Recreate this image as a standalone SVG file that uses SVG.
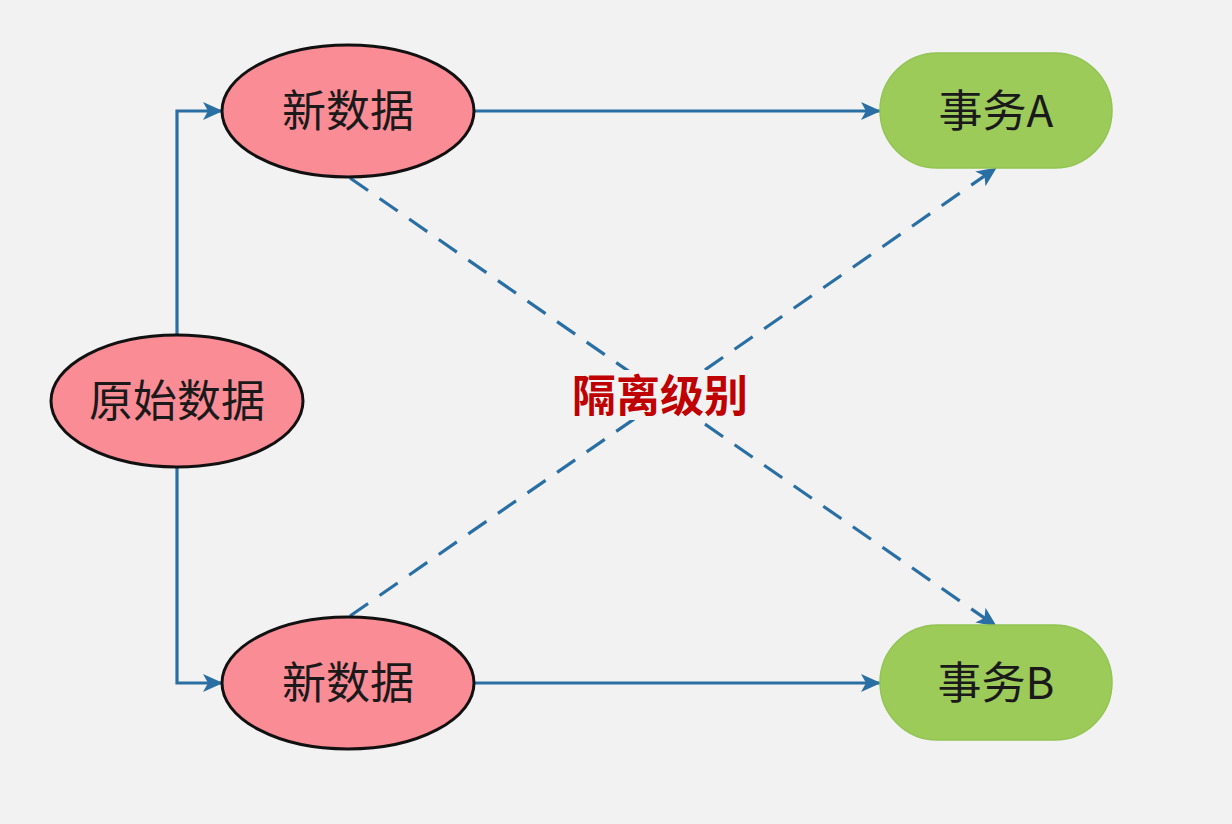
<svg xmlns="http://www.w3.org/2000/svg" width="1232" height="824" viewBox="0 0 1232 824">
  <defs>
    <marker id="arr" markerWidth="22" markerHeight="20" refX="19" refY="10" orient="auto" markerUnits="userSpaceOnUse">
      <path d="M0,1 L20,10 L0,19 L5,10 Z" fill="#2a6fa3"/>
    </marker>
  </defs>
  <style>
    .bg { fill: #f2f2f2; }
    .ell { fill: #fa8c96; stroke: #111; stroke-width: 3; }
    .pill { fill: #9dcb5a; stroke: #92c452; stroke-width: 1.5; }
    .lbl { font-family: "Noto Sans CJK SC", "Noto Sans", sans-serif; font-size: 44px; fill: #1a1a1a; text-anchor: middle; dominant-baseline: central; }
    .solid { fill: none; stroke: #2a6fa3; stroke-width: 3.2; }
    .dash { fill: none; stroke: #2a6fa3; stroke-width: 3.2; stroke-dasharray: 22 14; }
    .center { font-family: "Noto Sans CJK SC", sans-serif; font-size: 44px; font-weight: bold; fill: #c00000; text-anchor: middle; dominant-baseline: central; }
  </style>
  <rect class="bg" x="0" y="0" width="1232" height="824"/>

  <g id="connectors">
    <path class="solid" d="M177,335 L177,111 L222,111" marker-end="url(#arr)"/>
    <path class="solid" d="M177,467 L177,683 L222,683" marker-end="url(#arr)"/>
    <path class="solid" d="M475,111 L880,111" marker-end="url(#arr)"/>
    <path class="solid" d="M475,683 L880,683" marker-end="url(#arr)"/>
    <path class="dash" d="M350,178 L996,626" marker-end="url(#arr)"/>
    <path class="dash" d="M350,616 L996,168" marker-end="url(#arr)"/>
  </g>

  <g id="node-new-top">
    <ellipse class="ell" cx="348" cy="111" rx="126" ry="66"/>
    <text class="lbl" x="348" y="108">新数据</text>
  </g>
  <g id="node-original">
    <ellipse class="ell" cx="177" cy="401" rx="126" ry="66"/>
    <text class="lbl" x="177" y="398">原始数据</text>
  </g>
  <g id="node-new-bottom">
    <ellipse class="ell" cx="348" cy="683" rx="126" ry="66"/>
    <text class="lbl" x="348" y="680">新数据</text>
  </g>
  <g id="node-txA">
    <rect class="pill" x="880" y="53" width="232" height="115" rx="57.5" ry="57.5"/>
    <text class="lbl" x="996" y="108">事务A</text>
  </g>
  <g id="node-txB">
    <rect class="pill" x="880" y="625" width="232" height="115" rx="57.5" ry="57.5"/>
    <text class="lbl" x="996" y="680">事务B</text>
  </g>
  <g id="label-isolation">
    <rect x="565" y="370" width="190" height="50" fill="#f2f2f2"/>
    <text class="center" x="660" y="393">隔离级别</text>
  </g>
</svg>
